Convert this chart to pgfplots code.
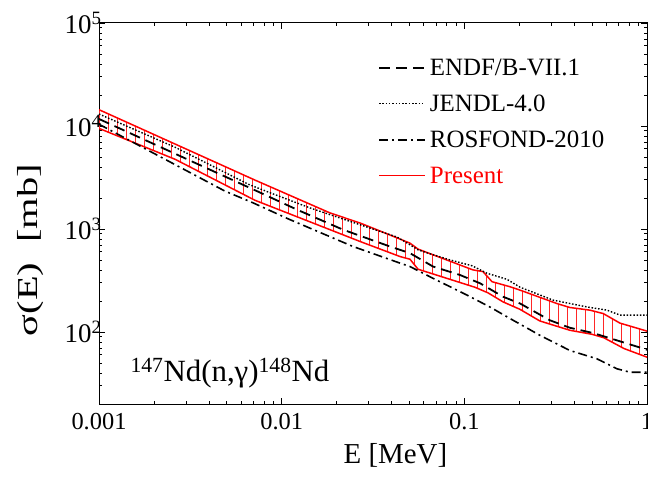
\documentclass[border=0pt]{standalone}
\usepackage{fontspec}
\setmainfont{Liberation Serif}
\usepackage{graphicx}
\usepackage{pgfplots}
\pgfplotsset{compat=1.18}
\usepgfplotslibrary{fillbetween}
\usetikzlibrary{patterns.meta}
\newcommand{\lf}{\fontsize{25}{30}\selectfont}
\begin{document}
\begin{tikzpicture}
\begin{axis}[
  scale only axis,
  width=548bp, height=381bp,
  xmode=log, ymode=log,
  xmin=0.001, xmax=1, ymin=20, ymax=1e5,
  xtick={0.001,0.01,0.1,1}, xticklabels={0.001,0.01,0.1,1},
  ytick={100,1000,10000,100000},
  yticklabels={10\textsuperscript{2},10\textsuperscript{3},10\textsuperscript{4},10\textsuperscript{5}},
  minor xtick={0.002,0.003,0.004,0.005,0.006,0.007,0.008,0.009,0.02,0.03,0.04,0.05,0.06,0.07,0.08,0.09,0.2,0.3,0.4,0.5,0.6,0.7,0.8,0.9},
  minor ytick={30,40,50,60,70,80,90,200,300,400,500,600,700,800,900,2000,3000,4000,5000,6000,7000,8000,9000,20000,30000,40000,50000,60000,70000,80000,90000},
  xtick pos=both, ytick pos=both,
  tick align=inside,
  major tick length=6bp, minor tick length=3.5bp,
  axis line style={line width=1bp},
  every tick/.style={black, line width=0.8bp},
  xticklabel style={font=\fontsize{24.5}{28}\selectfont, yshift=-6bp},
  yticklabel style={font=\fontsize{27}{30}\selectfont, xshift=6bp},
  every axis x label/.style={at={(rel axis cs:0.541,0)},anchor=north,yshift=-36bp},
  xlabel={\fontsize{29}{34}\selectfont E [MeV]},
  every axis y label/.style={at={(rel axis cs:-0.125,0.404)},rotate=90,anchor=center},
  ylabel={\scalebox{1.4}[1]{\fontsize{29}{34}\selectfont σ(E)\ \ [mb]}},
  legend style={at={(rel axis cs:0.509,0.912)}, anchor=north west, draw=none, fill=none,
    font=\lf, row sep=14bp, inner sep=0pt,
    nodes={inner xsep=4bp}},
  legend cell align=left,
  legend image code/.code={\draw[#1] (0bp,0bp) -- (46bp,0bp);},
]
% Present: upper and lower bounds
\addplot[name path=upper, red, line width=1.5bp, forget plot] coordinates {
(0.001,14400) (0.00261,6680) (0.00714,2985) (0.0184,1432) (0.027,1140) (0.0445,798)
(0.0504,729) (0.0558,638) (0.1114,401) (0.1265,386) (0.1417,308) (0.178,275)
(0.2017,255) (0.321,189) (0.378,173) (0.487,163) (0.576,151) (0.711,122) (1,102)};
\addplot[name path=lower, red, line width=1.5bp, forget plot] coordinates {
(0.001,9480) (0.00261,4750) (0.00714,1901) (0.0269,756) (0.0445,540) (0.0504,509)
(0.0558,407) (0.1143,272) (0.1347,240) (0.163,196) (0.2017,166) (0.259,128)
(0.378,104) (0.50,95) (0.58,88) (0.75,69) (1,57)};
\addplot[draw=none, pattern={Lines[angle=90,distance=9bp,line width=0.8bp]}, pattern color=red!85, forget plot] fill between[of=upper and lower];
% ENDF/B-VII.1
\addplot[black, line width=1.8bp, dash pattern=on 11bp off 6bp] coordinates {
(0.001,11700) (0.00733,2330) (0.01213,1542) (0.0217,984) (0.0392,676) (0.0504,583)
(0.0674,432) (0.0946,358) (0.122,297) (0.163,220) (0.202,189) (0.294,130)
(0.378,110) (0.506,97.8) (0.685,82.9) (1,67.3)};
\addlegendentry{\lf ENDF/B-VII.1}
% JENDL-4.0
\addplot[black, line width=1.4bp, dash pattern=on 1.5bp off 1.8bp] coordinates {
(0.001,13060) (0.00261,6220) (0.0066,2710) (0.00863,2250) (0.01428,1603) (0.02366,1186)
(0.0428,836) (0.0504,703) (0.0558,628) (0.0632,583) (0.0834,501) (0.110,440)
(0.133,372) (0.171,325) (0.202,272) (0.306,204) (0.470,175) (0.604,163) (0.711,146) (1,146)};
\addlegendentry{\lf JENDL-4.0}
% ROSFOND-2010
\addplot[black, line width=1.6bp, dash pattern=on 9bp off 4bp on 2bp off 4bp] coordinates {
(0.001,10400) (0.0049,2330) (0.00697,1795) (0.0111,1233) (0.0246,676) (0.0445,466)
(0.0504,432) (0.0674,332) (0.1035,228) (0.138,175) (0.185,130) (0.223,108)
(0.259,92.9) (0.378,66.2) (0.531,55) (0.683,44) (0.807,40.7) (1,40.7)};
\addlegendentry{\lf ROSFOND-2010}
\addlegendimage{red, line width=1.5bp}
\addlegendentry{\lf\textcolor{red}{Present}}
\node[anchor=base, font=\fontsize{31}{36}\selectfont] at (rel axis cs:0.239,0.0585)
  {\textsuperscript{147}Nd(n,γ)\textsuperscript{148}Nd};
\end{axis}
\pgfresetboundingbox
\path[use as bounding box] ([shift={(-99bp,-72bp)}]current axis.south west) rectangle ([shift={(1bp,23bp)}]current axis.north east);
\end{tikzpicture}
\end{document}
